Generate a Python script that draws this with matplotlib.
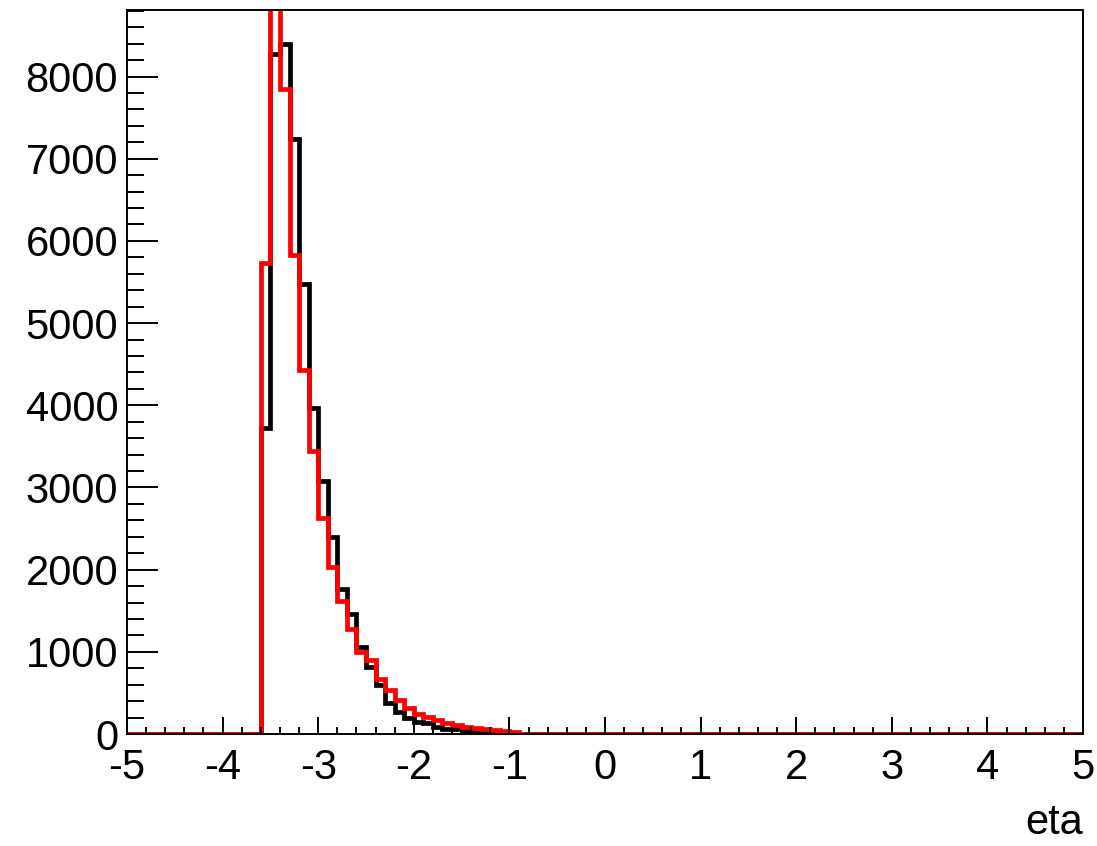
"""
eta dağılımı: iki histogramın (siyah ve kırmızı) ROOT tarzı çizimi.
"""
import numpy as np
import matplotlib
matplotlib.use("Agg")
import matplotlib.pyplot as plt
from matplotlib.ticker import MultipleLocator

plt.rcParams["font.family"] = ["Liberation Sans", "DejaVu Sans"]
plt.rcParams["axes.unicode_minus"] = False

# 100 bin, -5 ile 5 arası (bin genişliği 0.1)
N_BINS = 100
ETA_MIN = -5.0
ETA_MAX = 5.0
FIRST_BIN = 14  # ilk dolu bin: [-3.6, -3.5)

black_counts = [
    3725, 8270, 8390, 7240, 5480, 3967, 3080, 2392, 1766, 1461,
    1058, 816, 594, 372, 270, 190, 149, 130, 88, 64,
    55, 40, 28, 20, 15, 10, 5,
]
red_counts = [
    5725, 9300, 7846, 5826, 4435, 3440, 2634, 2028, 1624, 1283,
    1000, 897, 667, 533, 412, 311, 240, 210, 170, 130,
    110, 90, 70, 57, 48, 40, 25,
]

x_label = "eta"


def fill_bins(counts: list[int]) -> np.ndarray:
    """
    Dolu binleri 100 binlik diziye yerleştirir, kalanlar sıfır.
    """
    values = np.zeros(N_BINS)
    values[FIRST_BIN:FIRST_BIN + len(counts)] = counts
    return values


def main() -> None:
    edges = np.linspace(ETA_MIN, ETA_MAX, N_BINS + 1)
    black = fill_bins(black_counts)
    red = fill_bins(red_counts)

    fig = plt.figure(figsize=(10.97, 8.46), dpi=100)
    ax = fig.add_axes([127 / 1097, 112 / 846, 956 / 1097, 724 / 846])

    ax.stairs(black, edges, color="black", linewidth=3.4)
    ax.stairs(red, edges, color="#ff0000", linewidth=3.4)

    ax.set_xlim(ETA_MIN, ETA_MAX)
    # ROOT: üst sınır = 1.05 * ilk histogramın maksimumu
    ax.set_ylim(0, 1.05 * black.max())

    ax.xaxis.set_major_locator(MultipleLocator(1))
    ax.xaxis.set_minor_locator(MultipleLocator(0.2))
    ax.yaxis.set_major_locator(MultipleLocator(1000))
    ax.yaxis.set_minor_locator(MultipleLocator(200))

    ax.tick_params(axis="both", which="both", direction="in",
                   top=False, right=False, width=1.4, labelsize=30)
    ax.tick_params(axis="x", which="major", length=12.2, pad=10)
    ax.tick_params(axis="x", which="minor", length=5.4)
    ax.tick_params(axis="y", which="major", length=22.3, pad=6.3)
    ax.tick_params(axis="y", which="minor", length=11.9)

    for spine in ax.spines.values():
        spine.set_linewidth(1.4)

    ax.set_xlabel(x_label, fontsize=30, loc="right")
    ax.xaxis.set_label_coords(1.0, -0.095)

    fig.savefig("out.png", dpi=100)
    plt.close(fig)


if __name__ == "__main__":
    main()
